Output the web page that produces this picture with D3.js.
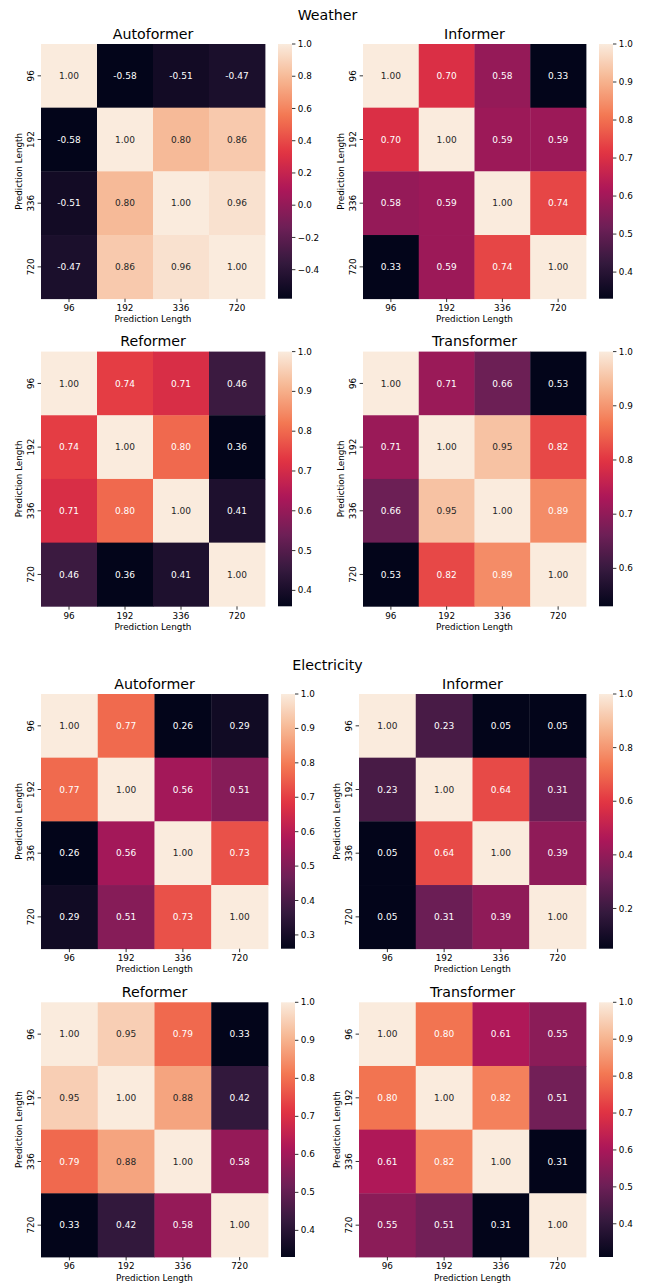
<!DOCTYPE html>
<html><head><meta charset="utf-8">
<script src="https://cdn.jsdelivr.net/npm/d3@7"></script>
<style>body{margin:0;background:#fff;} svg{display:block;} text{font-family:"DejaVu Sans",sans-serif;}</style>
</head><body>
<svg id="chart" width="645" height="1288"></svg>
<script>
// ---------- data ----------
const lengths = ["96", "192", "336", "720"];
const sections = ["Weather", "Electricity"];
const models = ["Autoformer", "Informer", "Reformer", "Transformer"];

const weatherAutoformer = [[1.00,-0.58,-0.51,-0.47],[-0.58,1.00,0.80,0.86],[-0.51,0.80,1.00,0.96],[-0.47,0.86,0.96,1.00]];
const weatherInformer   = [[1.00,0.70,0.58,0.33],[0.70,1.00,0.59,0.59],[0.58,0.59,1.00,0.74],[0.33,0.59,0.74,1.00]];
const weatherReformer   = [[1.00,0.74,0.71,0.46],[0.74,1.00,0.80,0.36],[0.71,0.80,1.00,0.41],[0.46,0.36,0.41,1.00]];
const weatherTransformer= [[1.00,0.71,0.66,0.53],[0.71,1.00,0.95,0.82],[0.66,0.95,1.00,0.89],[0.53,0.82,0.89,1.00]];
const elecAutoformer    = [[1.00,0.77,0.26,0.29],[0.77,1.00,0.56,0.51],[0.26,0.56,1.00,0.73],[0.29,0.51,0.73,1.00]];
const elecInformer      = [[1.00,0.23,0.05,0.05],[0.23,1.00,0.64,0.31],[0.05,0.64,1.00,0.39],[0.05,0.31,0.39,1.00]];
const elecReformer      = [[1.00,0.95,0.79,0.33],[0.95,1.00,0.88,0.42],[0.79,0.88,1.00,0.58],[0.33,0.42,0.58,1.00]];
const elecTransformer   = [[1.00,0.80,0.61,0.55],[0.80,1.00,0.82,0.51],[0.61,0.82,1.00,0.31],[0.55,0.51,0.31,1.00]];

const weatherAutoformerTicks  = [-0.4,-0.2,0.0,0.2,0.4,0.6,0.8,1.0];
const weatherInformerTicks    = [0.4,0.5,0.6,0.7,0.8,0.9,1.0];
const weatherReformerTicks    = [0.4,0.5,0.6,0.7,0.8,0.9,1.0];
const weatherTransformerTicks = [0.6,0.7,0.8,0.9,1.0];
const elecAutoformerTicks     = [0.3,0.4,0.5,0.6,0.7,0.8,0.9,1.0];
const elecInformerTicks       = [0.2,0.4,0.6,0.8,1.0];
const elecReformerTicks       = [0.4,0.5,0.6,0.7,0.8,0.9,1.0];
const elecTransformerTicks    = [0.4,0.5,0.6,0.7,0.8,0.9,1.0];

// rocket colormap anchors (evenly spaced)
const rocketStops = ["#03051a","#35193e","#701f57","#ad1759","#e13342","#f37651","#f6b48f","#faebdd"];
const rocket = d3.piecewise(d3.interpolateRgb, rocketStops);

// ---------- layout ----------
const svg = d3.select("#chart");
const H = 254.7;
const panels = [
  {sec:0, name:models[0], data:weatherAutoformer,  ticks:weatherAutoformerTicks,  x0:41,  x1:265, top:44,    cb:278},
  {sec:0, name:models[1], data:weatherInformer,    ticks:weatherInformerTicks,    x0:363, x1:586, top:44,    cb:599},
  {sec:0, name:models[2], data:weatherReformer,    ticks:weatherReformerTicks,    x0:41,  x1:265, top:351.6, cb:278},
  {sec:0, name:models[3], data:weatherTransformer, ticks:weatherTransformerTicks, x0:363, x1:586, top:351.6, cb:599},
  {sec:1, name:models[0], data:elecAutoformer,     ticks:elecAutoformerTicks,     x0:41,  x1:268, top:694,   cb:281},
  {sec:1, name:models[1], data:elecInformer,       ticks:elecInformerTicks,       x0:359, x1:586, top:694,   cb:599},
  {sec:1, name:models[2], data:elecReformer,       ticks:elecReformerTicks,       x0:41,  x1:268, top:1002.3,cb:281},
  {sec:1, name:models[3], data:elecTransformer,    ticks:elecTransformerTicks,    x0:359, x1:586, top:1002.3,cb:599},
];
const supY = [19.5, 670];

sections.forEach((s,i)=>{
  svg.append("text").attr("x",327.5).attr("y",supY[i]).attr("text-anchor","middle")
    .attr("font-size",14.2).attr("fill","#000").text(s);
});

function lum(c){
  const r = d3.rgb(c);
  const f = v=>{v/=255; return v<=0.03928? v/12.92 : Math.pow((v+0.055)/1.055,2.4);};
  return 0.2126*f(r.r)+0.7152*f(r.g)+0.0722*f(r.b);
}
const fmtTick = v => d3.format(".1f")(v).replace("-", "\u2212");
const fmtAnn = v => d3.format(".2f")(v).replace("\u2212", "-");

panels.forEach((p,pi)=>{
  const g = svg.append("g");
  const flat = p.data.flat();
  const vmin = d3.min(flat), vmax = d3.max(flat);
  const color = d3.scaleSequential(rocket).domain([vmin, vmax]);
  const x = d3.scaleBand().domain(lengths).range([p.x0, p.x1]);
  const y = d3.scaleBand().domain(lengths).range([p.top, p.top+H]);
  const bottom = p.top + H;

  const cells = [];
  p.data.forEach((row,ri)=>row.forEach((v,ci)=>cells.push({r:lengths[ri], c:lengths[ci], v})));

  g.selectAll("rect.cell").data(cells).enter().append("rect")
    .attr("x",d=>x(d.c)).attr("y",d=>y(d.r))
    .attr("width",x.bandwidth()+0.4).attr("height",y.bandwidth()+0.4)
    .attr("fill",d=>color(d.v));
  g.selectAll("text.ann").data(cells).enter().append("text")
    .attr("x",d=>x(d.c)+x.bandwidth()/2).attr("y",d=>y(d.r)+y.bandwidth()/2)
    .attr("text-anchor","middle").attr("dy","0.35em").attr("font-size",9)
    .attr("fill",d=> lum(color(d.v))>0.408 ? "#262626" : "#ffffff")
    .text(d=>fmtAnn(d.v));

  // x ticks
  lengths.forEach(l=>{
    const cx = x(l)+x.bandwidth()/2;
    g.append("line").attr("x1",cx).attr("x2",cx).attr("y1",bottom).attr("y2",bottom+3.4)
      .attr("stroke","#000").attr("stroke-width",0.8);
    g.append("text").attr("x",cx).attr("y",bottom+12.3).attr("text-anchor","middle")
      .attr("font-size",8.8).attr("fill","#000").text(l);
    const cy = y(l)+y.bandwidth()/2;
    g.append("line").attr("x1",p.x0-3.4).attr("x2",p.x0).attr("y1",cy).attr("y2",cy)
      .attr("stroke","#000").attr("stroke-width",0.8);
    g.append("text").attr("transform",`translate(${p.x0-6.6},${cy}) rotate(-90)`)
      .attr("text-anchor","middle").attr("font-size",8.8).attr("fill","#000").text(l);
  });
  g.append("text").attr("x",(p.x0+p.x1)/2).attr("y",bottom+23.5).attr("text-anchor","middle")
    .attr("font-size",8.8).attr("fill","#000").text("Prediction Length");
  g.append("text").attr("transform",`translate(${p.x0-19},${p.top+H/2}) rotate(-90)`)
    .attr("text-anchor","middle").attr("font-size",8.8).attr("fill","#000").text("Prediction Length");
  g.append("text").attr("x",(p.x0+p.x1)/2).attr("y",p.top-5.3).attr("text-anchor","middle")
    .attr("font-size",14.2).attr("fill","#000").text(p.name);

  // colorbar
  const gid = "grad"+pi;
  const grad = svg.append("defs").append("linearGradient").attr("id",gid)
    .attr("x1",0).attr("y1",1).attr("x2",0).attr("y2",0);
  d3.range(0,1.0001,0.02).forEach(t=>{
    grad.append("stop").attr("offset",t).attr("stop-color",rocket(t));
  });
  const cbw = 14;
  g.append("rect").attr("x",p.cb).attr("y",p.top).attr("width",cbw).attr("height",H)
    .attr("fill",`url(#${gid})`);
  const cs = d3.scaleLinear().domain([vmin,vmax]).range([bottom,p.top]);
  p.ticks.forEach(t=>{
    const ty = cs(t);
    g.append("line").attr("x1",p.cb+cbw).attr("x2",p.cb+cbw+3.4).attr("y1",ty).attr("y2",ty)
      .attr("stroke","#000").attr("stroke-width",0.8);
    g.append("text").attr("x",p.cb+cbw+5.8).attr("y",ty).attr("dy","0.35em")
      .attr("font-size",8.8).attr("fill","#000").text(fmtTick(t));
  });
});
</script>
</body></html>
